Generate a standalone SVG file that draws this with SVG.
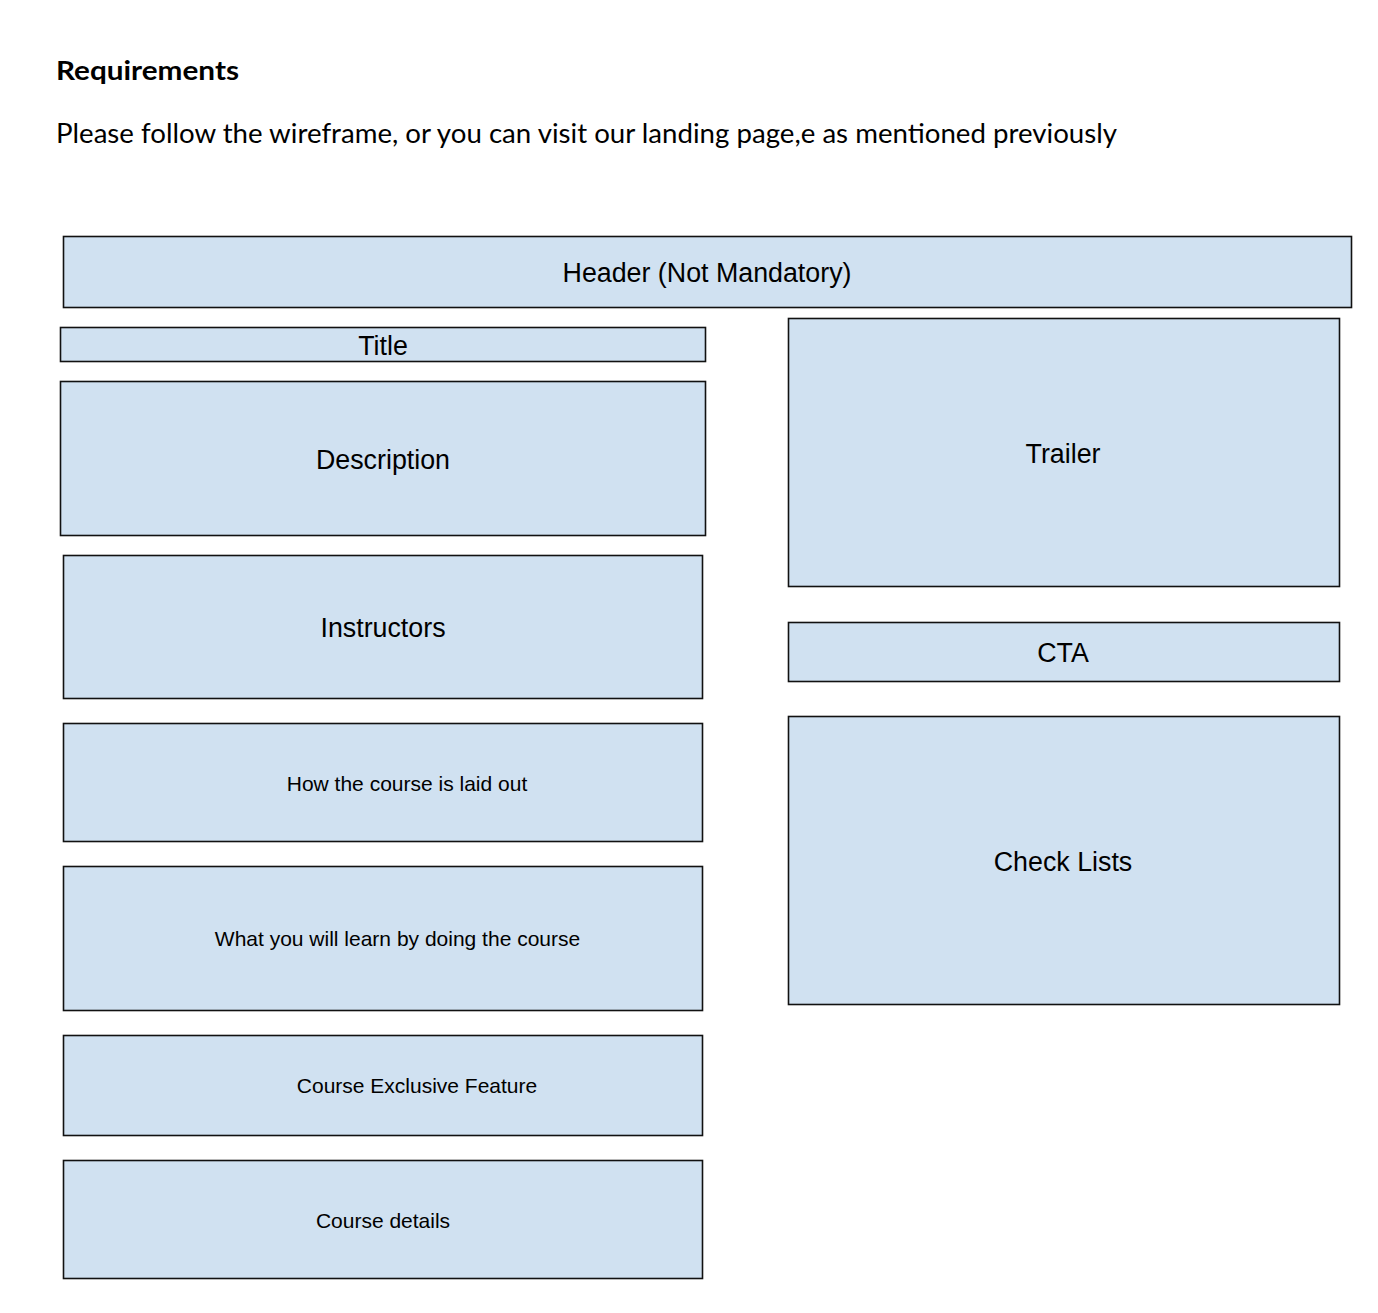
<svg xmlns="http://www.w3.org/2000/svg" width="1378" height="1313" viewBox="0 0 1378 1313">
<style>
.box{fill:#d0e1f1;stroke:#111;stroke-width:1.6}
.lg{font-family:"Liberation Sans",Arial,sans-serif;font-size:26.8px;fill:#000;text-anchor:middle}
.sm{font-family:"Liberation Sans",Arial,sans-serif;font-size:21px;fill:#000;text-anchor:middle}
.hd{font-family:Lato,"Open Sans",sans-serif;fill:#000}
</style>
<rect width="1378" height="1313" fill="#fff"/>
<text class="hd" x="56" y="80" font-size="27" font-weight="bold" textLength="183" lengthAdjust="spacingAndGlyphs">Requirements</text>
<text class="hd" x="56" y="143" font-size="27" textLength="1061" lengthAdjust="spacingAndGlyphs">Please follow the wireframe, or you can visit our landing page,e as mentioned previously</text>
<g id="connectors"/>
<g id="header"><rect class="box" x="63.5" y="236.5" width="1288" height="71"/><text class="lg" x="707" y="281.5">Header (Not Mandatory)</text></g>
<g id="title"><rect class="box" x="60.5" y="327.5" width="645" height="34"/><text class="lg" x="383" y="354.5">Title</text></g>
<g id="description"><rect class="box" x="60.5" y="381.5" width="645" height="154"/><text class="lg" x="383" y="468.5">Description</text></g>
<g id="instructors"><rect class="box" x="63.5" y="555.5" width="639" height="143"/><text class="lg" x="383" y="637">Instructors</text></g>
<g id="layout"><rect class="box" x="63.5" y="723.5" width="639" height="118"/><text class="sm" x="407" y="791">How the course is laid out</text></g>
<g id="learn"><rect class="box" x="63.5" y="866.5" width="639" height="144"/><text class="sm" x="397.5" y="946">What you will learn by doing the course</text></g>
<g id="exclusive"><rect class="box" x="63.5" y="1035.5" width="639" height="100"/><text class="sm" x="417" y="1093">Course Exclusive Feature</text></g>
<g id="details"><rect class="box" x="63.5" y="1160.5" width="639" height="118"/><text class="sm" x="383" y="1227.5">Course details</text></g>
<g id="trailer"><rect class="box" x="788.5" y="318.5" width="551" height="268"/><text class="lg" x="1063" y="462.5">Trailer</text></g>
<g id="cta"><rect class="box" x="788.5" y="622.5" width="551" height="59"/><text class="lg" x="1063" y="661.5">CTA</text></g>
<g id="checklists"><rect class="box" x="788.5" y="716.5" width="551" height="288"/><text class="lg" x="1063" y="871">Check Lists</text></g>
</svg>
